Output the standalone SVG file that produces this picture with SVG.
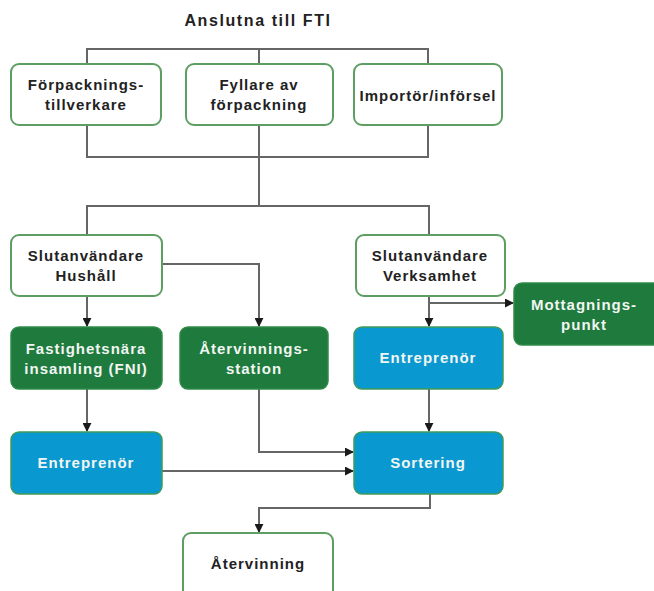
<svg xmlns="http://www.w3.org/2000/svg" width="654" height="591" viewBox="0 0 654 591">
<defs>
<marker id="arr" viewBox="0 0 10 10" refX="9" refY="5" markerWidth="9" markerHeight="9" markerUnits="userSpaceOnUse" orient="auto">
<path d="M0,0 L10,5 L0,10 Z" fill="#1a1a1a"/>
</marker>
<style>
.w{fill:#ffffff;stroke:#5f9e63;stroke-width:2}
.g{fill:#1e7a3d;stroke:#2f8a48;stroke-width:1.5}
.b{fill:#0a98d1;stroke:#3f9a5a;stroke-width:1.5}
.t{font-family:"Liberation Sans",Arial,sans-serif;font-weight:bold;font-size:15px;letter-spacing:1px;text-anchor:middle}
.dk{fill:#222222}
.lt{fill:#f2f6f2}
.c{fill:none;stroke:#666666;stroke-width:2}
.a{marker-end:url(#arr)}
</style>
</defs>
<rect width="654" height="591" fill="#ffffff"/>
<text x="258" y="26" class="t dk" style="font-size:16px;letter-spacing:1.6px">Anslutna till FTI</text>
<g id="connectors">
<path class="c" d="M87,64 V49 H428 V64 M259,49 V64"/>
<path class="c" d="M87,125 V157 H428 V125 M259,125 V206"/>
<path class="c" d="M87,235 V206 H429 V235"/>
<path class="c a" d="M87,296 V326"/>
<path class="c a" d="M162,264 H259 V326"/>
<path class="c a" d="M429,296 V326"/>
<path class="c a" d="M429,303 H513"/>
<path class="c a" d="M87,389 V431"/>
<path class="c a" d="M259,389 V452 H353"/>
<path class="c a" d="M162,471 H353"/>
<path class="c a" d="M429,389 V431"/>
<path class="c a" d="M430,494 V508 H259 V532"/>
</g>
<g id="forpackningstillverkare"><rect class="w" x="11" y="64" width="150" height="61" rx="8"/><text class="t dk" x="86" y="90">Förpacknings-</text><text class="t dk" x="86" y="110">tillverkare</text></g>
<g id="fyllare"><rect class="w" x="186" y="64" width="147" height="61" rx="8"/><text class="t dk" x="259" y="90">Fyllare av</text><text class="t dk" x="259" y="110">förpackning</text></g>
<g id="importor"><rect class="w" x="354" y="64" width="148" height="61" rx="8"/><text class="t dk" x="428" y="101">Importör/införsel</text></g>
<g id="hushall"><rect class="w" x="11" y="235" width="151" height="61" rx="8"/><text class="t dk" x="86" y="261">Slutanvändare</text><text class="t dk" x="86" y="281">Hushåll</text></g>
<g id="verksamhet"><rect class="w" x="356" y="235" width="149" height="61" rx="8"/><text class="t dk" x="430" y="261">Slutanvändare</text><text class="t dk" x="430" y="281">Verksamhet</text></g>
<g id="mottagningspunkt"><rect class="g" x="514" y="283" width="152" height="62" rx="8"/><text class="t lt" x="584" y="310">Mottagnings-</text><text class="t lt" x="584" y="330">punkt</text></g>
<g id="fni"><rect class="g" x="11" y="327" width="151" height="62" rx="8"/><text class="t lt" x="86" y="354">Fastighetsnära</text><text class="t lt" x="86" y="374">insamling (FNI)</text></g>
<g id="avs"><rect class="g" x="180" y="327" width="148" height="62" rx="8"/><text class="t lt" x="254" y="354">Återvinnings-</text><text class="t lt" x="254" y="374">station</text></g>
<g id="entreprenor-hoger"><rect class="b" x="354" y="327" width="149" height="62" rx="8"/><text class="t lt" x="428" y="363">Entreprenör</text></g>
<g id="entreprenor-vanster"><rect class="b" x="11" y="432" width="151" height="62" rx="8"/><text class="t lt" x="86" y="468">Entreprenör</text></g>
<g id="sortering"><rect class="b" x="354" y="432" width="149" height="62" rx="8"/><text class="t lt" x="428" y="468">Sortering</text></g>
<g id="atervinning"><rect class="w" x="183" y="533" width="150" height="70" rx="8"/><text class="t dk" x="258" y="569">Återvinning</text></g>
</svg>
